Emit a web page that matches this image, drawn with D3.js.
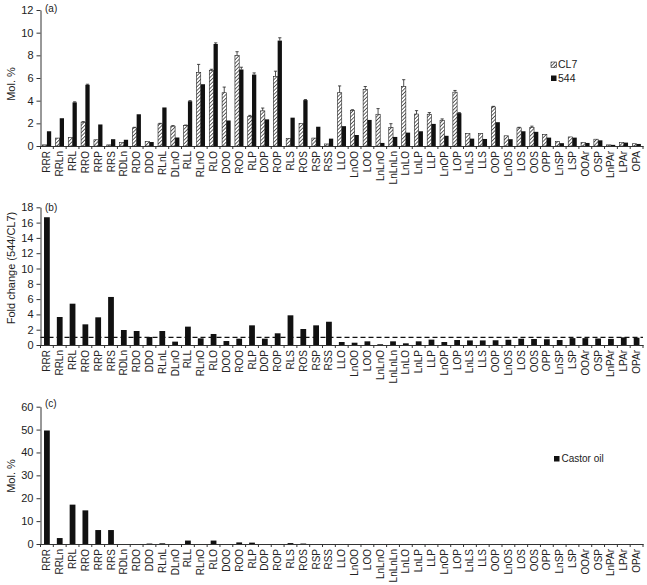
<!DOCTYPE html>
<html>
<head>
<meta charset="utf-8">
<script src="https://cdn.jsdelivr.net/npm/d3@7"></script>
<style>
  body { margin: 0; background: #fff; }
  svg text { font-family: "Liberation Sans", Arial, Helvetica, sans-serif; fill: #222; }
  .axis path, .axis line { stroke: #333; }
</style>
</head>
<body>
<div id="graph"></div>
<script>
// categories (panel a ends with "OPA", panels b and c with "OPAr")
const catsA = ["RRR","RRLn","RRL","RRO","RRP","RRS","RDLn","RDO","DDO","RLnL","DLnO","RLL","RLnO","RLO","DOO","ROO","RLP","DOP","ROP","RLS","ROS","RSP","RSS",
  "LLO","LnOO","LOO","LnLnO","LnLnLn","LnLO","LnLP","LLP","LnOP","LOP","LnLS","LLS","OOP","LnOS","LOS","OOS","OPP","LnSP","LSP","OOAr","OSP","LnPAr","LPAr","OPA"];
const catsBC = catsA.slice(0, 46).concat(["OPAr"]);

// (a) Mol. %
const cl7 = [0.1,0.7,0.75,2.1,0.55,0.1,0.3,1.6,0.4,1.95,1.75,1.8,6.5,6.65,4.7,7.97,2.6,3.1,6.15,0.68,2.0,0.7,0.18,
  4.7,3.15,5.0,2.8,1.65,5.25,2.82,2.8,2.27,4.75,1.1,1.1,3.45,0.9,1.6,1.65,1.03,0.4,0.8,0.3,0.6,0.1,0.3,0.2];
const cl7Err = [0,0,0,0.05,0,0,0,0.05,0,0.05,0.05,0.05,0.7,0.12,0.5,0.35,0.1,0.25,0.45,0,0,0,0,
  0.6,0.05,0.25,0.5,0.32,0.6,0.3,0.15,0.12,0.15,0,0,0.05,0,0.05,0.1,0,0,0,0,0,0,0,0];
const m544 = [1.3,2.45,3.85,5.4,1.9,0.6,0.55,2.8,0.35,3.4,0.75,3.95,5.45,9.0,2.25,6.75,6.3,2.35,9.3,2.5,4.05,1.7,0.65,
  1.75,0.97,2.3,0.27,0.8,1.18,1.3,1.95,0.9,2.9,0.65,0.62,2.1,0.6,1.3,1.25,0.74,0.25,0.74,0.27,0.5,0.1,0.3,0.18];
const m544Err = [0,0,0.05,0.05,0,0,0,0,0,0,0,0.05,0,0.1,0,0.2,0.15,0,0.25,0,0.05,0,0,
  0,0,0,0,0,0,0,0,0,0.05,0,0,0,0,0,0,0,0,0,0,0,0,0,0];
const ticksA = [0,2,4,6,8,10,12];

// (b) fold change 544/CL7
const foldChange = [16.7,3.66,5.4,2.7,3.62,6.28,1.96,1.83,1.05,1.83,0.44,2.4,0.87,1.44,0.52,0.83,2.57,0.83,1.53,3.88,2.09,2.57,3.04,
  0.39,0.3,0.48,0.1,0.48,0.22,0.48,0.7,0.39,0.65,0.6,0.6,0.62,0.68,0.82,0.78,0.75,0.65,0.9,0.9,0.85,0.8,1.0,0.95];
const ticksB = [0,2,4,6,8,10,12,14,16,18];
const foldRef = 1;

// (c) castor oil Mol. %
const castor = [49.6,2.6,17.2,14.7,6.1,6.1,0,0,0.2,0.3,0,1.5,0,1.5,0,0.7,0.6,0,0,0.4,0.2,0,0,
  0,0,0,0,0,0,0,0,0,0,0,0,0,0,0,0,0,0,0,0,0,0,0,0];
const ticksC = [0,10,20,30,40,50,60];

const left = 40.5, right = 643;

const svg = d3.select("#graph").append("svg")
  .attr("width", 647)
  .attr("height", 585);

const defs = svg.append("defs");
defs.append("pattern")
  .attr("id", "hatch")
  .attr("patternUnits", "userSpaceOnUse")
  .attr("width", 2.6).attr("height", 2.6)
  .attr("patternTransform", "rotate(45)")
  .call(p => {
    p.append("rect").attr("width", 2.6).attr("height", 2.6).attr("fill", "#fff");
    p.append("line").attr("x1", 0).attr("y1", 0).attr("x2", 0).attr("y2", 2.6)
      .attr("stroke", "#222").attr("stroke-width", 1.4);
  });

function drawAxes(x, y, cats, ticks, title, titleY, tag, tagY) {
  const y0 = y(0);
  const gx = svg.append("g")
    .attr("class", "axis")
    .attr("transform", "translate(0," + y0 + ")")
    .call(d3.axisBottom(x).tickSize(0).tickSizeOuter(0));
  gx.selectAll(".tick text")
    .attr("transform", "rotate(-90)")
    .attr("x", -5)
    .attr("y", 0)
    .attr("dy", "0.35em")
    .style("text-anchor", "end")
    .style("font-size", "10px");
  gx.select(".domain").attr("stroke", "#333");

  // ticks between categories
  svg.append("g").selectAll("line")
    .data(cats.concat(["__end"]))
    .enter().append("line")
    .attr("x1", d => d === "__end" ? x.range()[1] : x(d))
    .attr("x2", d => d === "__end" ? x.range()[1] : x(d))
    .attr("y1", y0)
    .attr("y2", y0 + 3)
    .attr("stroke", "#333");

  const gy = svg.append("g")
    .attr("class", "axis")
    .attr("transform", "translate(" + left + ",0)")
    .call(d3.axisLeft(y).tickValues(ticks).tickSize(4).tickSizeOuter(0));
  gy.selectAll(".tick text").style("font-size", "11px").attr("x", -7);

  svg.append("text")
    .attr("transform", "translate(15," + titleY + ") rotate(-90)")
    .attr("text-anchor", "middle")
    .style("font-size", "11px")
    .text(title);

  svg.append("text")
    .attr("x", 45)
    .attr("y", tagY)
    .style("font-size", "10px")
    .text(tag);
}

// ---------- panel (a)
const xA = d3.scaleBand().domain(catsA).range([left, right]);
const sub = d3.scaleBand().domain(["CL7", "544"]).range([0, xA.bandwidth()]).paddingOuter(0.5);
const yA = d3.scaleLinear().domain([0, 12]).range([146, 10]);

const rowsA = catsA.map((c, i) => ({ cat: c, cl7: cl7[i], cl7Err: cl7Err[i], m544: m544[i], m544Err: m544Err[i] }));

svg.append("g").selectAll("rect")
  .data(rowsA)
  .enter().append("rect")
  .attr("x", d => xA(d.cat) + sub("CL7"))
  .attr("width", sub.bandwidth())
  .attr("y", d => yA(d.cl7))
  .attr("height", d => yA(0) - yA(d.cl7))
  .attr("fill", "url(#hatch)")
  .attr("stroke", "#222")
  .attr("stroke-width", 0.6);

svg.append("g").selectAll("rect")
  .data(rowsA)
  .enter().append("rect")
  .attr("x", d => xA(d.cat) + sub("544"))
  .attr("width", sub.bandwidth())
  .attr("y", d => yA(d.m544))
  .attr("height", d => yA(0) - yA(d.m544))
  .attr("fill", "#111");

function errorBars(data, key, errKey) {
  const g = svg.append("g").attr("stroke", "#222").attr("stroke-width", 0.8);
  data.filter(d => d[errKey] > 0).forEach(d => {
    const cx = xA(d.cat) + sub(key === "cl7" ? "CL7" : "544") + sub.bandwidth() / 2;
    const top = yA(d[key] + d[errKey]);
    g.append("line").attr("x1", cx).attr("x2", cx).attr("y1", yA(d[key])).attr("y2", top);
    g.append("line").attr("x1", cx - 1.6).attr("x2", cx + 1.6).attr("y1", top).attr("y2", top);
  });
}
errorBars(rowsA, "cl7", "cl7Err");
errorBars(rowsA, "m544", "m544Err");

drawAxes(xA, yA, catsA, ticksA, "Mol. %", 84, "(a)", 12);

const legA = svg.append("g").attr("transform", "translate(551,62)");
legA.append("rect").attr("width", 5.5).attr("height", 5.5)
  .attr("fill", "url(#hatch)").attr("stroke", "#222").attr("stroke-width", 0.6);
legA.append("text").attr("x", 7).attr("y", 6).style("font-size", "10.5px").text("CL7");
legA.append("rect").attr("y", 13.5).attr("width", 5.5).attr("height", 5.5).attr("fill", "#111");
legA.append("text").attr("x", 7).attr("y", 19.5).style("font-size", "10.5px").text("544");

// ---------- panel (b)
const xB = d3.scaleBand().domain(catsBC).range([left, right]);
const yB = d3.scaleLinear().domain([0, 18]).range([345, 207.3]);
const barW = xB.bandwidth() * 0.45;

svg.append("g").selectAll("rect")
  .data(catsBC.map((c, i) => ({ cat: c, v: foldChange[i] })))
  .enter().append("rect")
  .attr("x", d => xB(d.cat) + (xB.bandwidth() - barW) / 2)
  .attr("width", barW)
  .attr("y", d => yB(d.v))
  .attr("height", d => yB(0) - yB(d.v))
  .attr("fill", "#111");

svg.append("line")
  .attr("x1", left).attr("x2", right)
  .attr("y1", yB(foldRef)).attr("y2", yB(foldRef))
  .attr("stroke", "#111")
  .attr("stroke-width", 1.2)
  .attr("stroke-dasharray", "5,3");

drawAxes(xB, yB, catsBC, ticksB, "Fold change (544/CL7)", 268, "(b)", 211);

// ---------- panel (c)
const xC = d3.scaleBand().domain(catsBC).range([left, right]);
const yC = d3.scaleLinear().domain([0, 60]).range([544, 406.7]);

svg.append("g").selectAll("rect")
  .data(catsBC.map((c, i) => ({ cat: c, v: castor[i] })))
  .enter().append("rect")
  .attr("x", d => xC(d.cat) + (xC.bandwidth() - barW) / 2)
  .attr("width", barW)
  .attr("y", d => yC(d.v))
  .attr("height", d => yC(0) - yC(d.v))
  .attr("fill", "#111");

drawAxes(xC, yC, catsBC, ticksC, "Mol. %", 476, "(c)", 407);

const legC = svg.append("g").attr("transform", "translate(554,456)");
legC.append("rect").attr("width", 5.5).attr("height", 5.5).attr("fill", "#111");
legC.append("text").attr("x", 7.5).attr("y", 6).style("font-size", "10px").text("Castor oil");
</script>
</body>
</html>
